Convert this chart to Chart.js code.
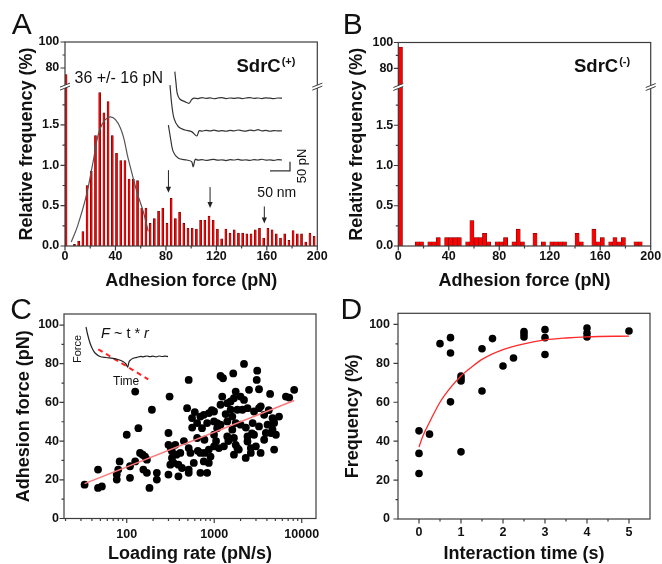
<!DOCTYPE html>
<html><head><meta charset="utf-8">
<script src="https://cdn.jsdelivr.net/npm/chart.js@4.4.1/dist/chart.umd.min.js"></script>
<style>
html,body{margin:0;padding:0;background:#fff;}
#wrap{position:relative;width:662px;height:564px;overflow:hidden;background:#fff;}
.pc{position:absolute;}
.pc canvas{display:block;}
.letter{position:absolute;font-family:'Liberation Sans',Arial,sans-serif;font-size:30px;line-height:30px;color:#111;}
</style></head><body>
<div id="wrap">
  <div class="pc" style="left:0;top:0;"><canvas id="cA" width="331" height="292"></canvas></div>
  <div class="pc" style="left:331px;top:0;"><canvas id="cB" width="331" height="292"></canvas></div>
  <div class="pc" style="left:0;top:292px;"><canvas id="cC" width="331" height="272"></canvas></div>
  <div class="pc" style="left:331px;top:292px;"><canvas id="cD" width="331" height="272"></canvas></div>
  <div class="letter" style="left:11.7px;top:9.4px">A</div>
  <div class="letter" style="left:342.8px;top:9.4px">B</div>
  <div class="letter" style="left:10.2px;top:294.4px">C</div>
  <div class="letter" style="left:340.6px;top:294.4px">D</div>
</div>
<script>
// ================= DATA =================
// Panels A/B: histogram of adhesion force, 60 bins over 0-200 pN (relative frequency, %)
const BIN_WIDTH = 200 / 60;
const A_FREQ = [75, 0, 0.02, 0.06, 0.18, 0.75, 0.93, 1.37, 1.9, 1.65, 1.79, 1.37, 1.15, 1.06, 1.06, 0.83, 0.83, 0.81, 0.47, 0.47,
  0.28, 0.34, 0.43, 0.47, 0.28, 0.59, 0.34, 0.42, 0.28, 0.22, 0.22, 0.21, 0.32, 0.32, 0.37, 0.32, 0.21, 0.09, 0.21, 0.16,
  0.2, 0.16, 0.16, 0.15, 0.15, 0.2, 0.22, 0.1, 0.22, 0.2, 0.15, 0.1, 0.15, 0.07, 0.19, 0.15, 0.15, 0.05, 0.16, 0.12];
const B_FREQ = [96.5, 0, 0, 0, 0.053, 0.053, 0, 0.053, 0.053, 0.105, 0, 0.105, 0.105, 0.105, 0.105, 0, 0.053, 0.316, 0.105, 0.105,
  0.158, 0.053, 0, 0.053, 0.053, 0.105, 0, 0.053, 0.21, 0.053, 0, 0, 0.158, 0, 0.053, 0, 0.053, 0.053, 0.053, 0.053,
  0, 0, 0.158, 0.053, 0, 0, 0.21, 0.053, 0.105, 0, 0.053, 0.105, 0.053, 0.105, 0, 0, 0.053, 0.053, 0, 0];
// Gaussian fit curve in A
const A_FIT_X = [5, 10, 17, 22, 28, 36, 44, 50, 57, 62, 66];
const A_FIT_Y = [0.05, 0.25, 0.63, 1.02, 1.46, 1.6, 1.46, 1.09, 0.67, 0.43, 0.18];
const A_FIT_LABEL = '36 +/- 16 pN';
// Arrows in A (force position, from/to frequency)
const A_ARROW_X = [82, 115, 158];
const A_ARROW_FROM = [0.94, 0.73, 0.49];
const A_ARROW_TO = [0.66, 0.47, 0.28];
// Inset force curves in A (distance nm, force pN offset)
const A_TRACE1 = [[37,706],[40,644],[43,587],[50,554],[62,541],[73,532],[79,552],[85,560],[95,558],[105,563],[115,559],[125,562],[135,557],[145,561],[155,563],[165,558],[175,561],[185,559],[195,562],[205,558],[215,561],[225,563],[235,559],[245,561],[255,558],[265,562],[275,560],[285,558],[295,561],[305,560]];
const A_TRACE2 = [[25,632],[29,532],[35,449],[46,403],[62,385],[79,376],[92,352],[98,381],[105,379],[115,383],[125,380],[135,384],[145,379],[155,382],[165,378],[175,383],[185,380],[195,385],[205,381],[215,379],[225,384],[235,381],[245,387],[255,380],[265,383],[275,378],[285,382],[295,380],[305,381]];
const A_TRACE3 = [[21,412],[27,330],[33,266],[46,229],[67,220],[79,211],[83,183],[88,224],[95,219],[105,222],[115,218],[125,221],[135,223],[145,219],[155,221],[165,217],[175,222],[185,220],[195,223],[205,219],[215,221],[225,218],[235,222],[245,220],[255,224],[265,219],[275,221],[285,218],[295,222],[305,220]];
const A_SCALEBAR = [[275,160],[325,160],[325,210]];

const HIST_X_TICKS = [0, 40, 80, 120, 160, 200];
const HIST_X_MINOR = [20, 60, 100, 140, 180];
const HIST_Y_TICKS = [0, 0.5, 1, 1.5, 80, 100];
const HIST_Y_LABELS = ['0.0', '0.5', '1.0', '1.5', '80', '100'];
const HIST_Y_MINOR = [0.25, 0.75, 1.25, 1.75, 90];

// Panel C: adhesion force vs loading rate
const C_RATE = [33,47,47,52,77,77,80,83,100,109,109,125,125,136,142,152,162,155,170,170,182,194,221,221,
  300,300,300,309,315,329,329,343,359,390,390,410,428,490,511,511,511,511,535,558,584,638,638,695,695,695,
  725,760,760,773,773,830,830,867,867,870,907,995,995,995,995,1080,1080,1130,1180,1180,1180,1235,1260,1290,
  1410,1410,1410,1540,1540,1610,1610,1650,1680,1680,1680,1760,1760,1760,1840,1840,1910,2000,2000,2100,2190,2190,
  2290,2400,2400,2400,2500,2620,2620,2750,2850,2850,2990,3060,3100,3250,3250,3250,3390,3720,3720,3890,4070,
  4350,4460,4640,4640,4780,4840,4840,5070,5500,6600,7200,8200,
  320,370,450,560,600,650,940,1050,1350,1450,2300,2700,3400,4200];
const C_FORCE = [17.5,25.3,15.8,16.6,20.1,22.7,25.3,29.5,43.3,27,21,29.5,65.6,46.7,33.9,33,32,25.3,23.6,30.4,15.8,56.2,23.6,20.1,
  38.1,44.2,22.7,63,27.8,34.7,31.3,28.7,38.1,27.8,21.8,33.9,26.1,57,71.6,36.4,25.3,23.6,33.9,51.9,28.7,41.6,49.3,33.9,23.6,52.7,
  46.7,29.5,53.6,33.9,40.7,23.6,49.3,28.7,35.6,54.5,32,37.3,43.3,55.3,50.2,46.7,49.3,36.4,73.7,58.8,48.5,63,72.5,37.3,
  42.4,50.2,59.6,60.5,56.2,45.9,52.7,75,41.6,33,62.2,38.1,65.6,49.3,36.4,56.2,35.6,48.5,63,56.2,79.9,61.3,
  31.3,42.4,39.8,57,66.5,36.4,33.9,49.3,43.3,55.3,37.3,71.6,76.4,66.8,47.6,57,33.9,40.7,53.6,44.2,48.5,
  64.4,44.2,45.9,51.9,50.2,35.6,49.3,43.3,52.7,63,62.5,66.5,
  36,33,40,47,55,35,56,40,54,40,47,44,58,56];
const C_FIT_RATE = [33, 8200];
const C_FIT_FORCE = [18, 61];
// Inset in C (time, force; arbitrary units)
const C_TRACE = [[0,40],[1.5,33],[4,24],[6.5,18],[9,14],[14,10.5],[20,9.5],[27,8.7],[32,7.5],[37,5.5],[40,3],[41.7,0],[43,5],[44,6.5],[47,8.7],[51,9.7],[55,10.6],[57,10.2],[61,11],[64,10.4],[67,10.8],[70,10.1],[73,11],[76,10.5],[79,10.9],[82,10.4]];
const C_SLOPE = [[12.3,17.7],[62.3,-12.3]];
const C_X_TICKS = [100, 1000, 10000];
const C_X_MINOR = [20,30,40,50,60,70,80,90,200,300,400,500,600,700,800,900,2000,3000,4000,5000,6000,7000,8000,9000];
const C_Y_TICKS = [0, 20, 40, 60, 80, 100];
const C_Y_MINOR = [10, 30, 50, 70, 90];

// Panel D: frequency vs interaction time
const D_TIME = [0,0,0,0.25,0.5,0.75,0.75,0.75,1,1,1,1,1.5,1.5,1.75,2,2.25,2.5,2.5,2.5,3,3,3,4,4,4,5];
const D_FREQ = [45.3,33.7,23.4,43.6,90.1,93.2,85.3,60.2,73.5,72.2,70.9,34.5,87.5,65.8,92.7,78.6,82.7,96.3,95,93.5,97.3,93.2,84.5,98.1,95.5,93.5,96.6];
const D_FIT_T = [0,0.1,0.28,0.5,0.75,1,1.25,1.5,2,2.5,3,3.5,4,5];
const D_FIT_Y = [37,43,51,60,67.5,73.5,78,82,87,90,92,93,93.6,94];
const D_X_TICKS = [0,1,2,3,4,5];
const D_X_MINOR = [0.5,1.5,2.5,3.5,4.5];
const D_Y_TICKS = [0,20,40,60,80,100];
const D_Y_MINOR = [10,30,50,70,90];

// ================= RENDERING =================
const FONT = "'Liberation Sans', Arial, Helvetica, sans-serif";
Chart.defaults.font.family = FONT;
Chart.defaults.color = '#111';
const AXIS_COLOR = '#3c3c3c';
const TICK_FONT = {family: FONT, size: 12.5, weight: 'bold', lineHeight: 1};
const TITLE_FONT = {family: FONT, size: 18, weight: 'bold', lineHeight: 1};

// broken y axis for histograms
const BREAK_LOW = 1.958, BREAK_HIGH = 64.6, UPPER_PER_PCT = 0.0161;
function brk(v) { return v <= BREAK_LOW ? v : BREAK_LOW + (v - BREAK_HIGH) * UPPER_PER_PCT; }

const framePlugin = {
  id: 'frame',
  afterDatasetsDraw(chart, args, o) {
    const {ctx, chartArea: a} = chart;
    const xs = chart.scales.x, ys = chart.scales.y;
    ctx.save();
    ctx.strokeStyle = AXIS_COLOR; ctx.lineWidth = 1.2;
    ctx.strokeRect(a.left, a.top, a.right - a.left, a.bottom - a.top);
    ctx.beginPath();
    (o.xMajor || []).forEach(v => { const p = xs.getPixelForValue(v); ctx.moveTo(p, a.bottom); ctx.lineTo(p, a.bottom + 4.5); });
    (o.xMinor || []).forEach(v => { const p = xs.getPixelForValue(v); ctx.moveTo(p, a.bottom); ctx.lineTo(p, a.bottom + 2.5); });
    (o.yMajor || []).forEach(v => { const p = ys.getPixelForValue(v); ctx.moveTo(a.left, p); ctx.lineTo(a.left - 4.5, p); });
    (o.yMinor || []).forEach(v => { const p = ys.getPixelForValue(v); ctx.moveTo(a.left, p); ctx.lineTo(a.left - 2.5, p); });
    ctx.stroke();
    if (o.breakAt != null) {
      const yb = ys.getPixelForValue(o.breakAt);
      [a.left, a.right].forEach(xb => {
        ctx.fillStyle = '#fff';
        ctx.beginPath();
        ctx.moveTo(xb - 5, yb + 0.5); ctx.lineTo(xb + 5, yb - 3.5);
        ctx.lineTo(xb + 5, yb - 0.5); ctx.lineTo(xb - 5, yb + 3.5); ctx.closePath(); ctx.fill();
        ctx.lineWidth = 1;
        ctx.beginPath();
        ctx.moveTo(xb - 5, yb + 0.5); ctx.lineTo(xb + 5, yb - 3.5);
        ctx.moveTo(xb - 5, yb + 3.5); ctx.lineTo(xb + 5, yb - 0.5);
        ctx.stroke();
      });
    }
    ctx.restore();
  }
};

function histConfig(freq, dims, extraDatasets, extraScales, plugins) {
  const centers = freq.map((_, i) => (i + 0.5) * BIN_WIDTH);
  return {
    type: 'bar',
    data: {
      datasets: [{
        type: 'bar',
        data: freq.map((v, i) => ({x: centers[i], y: brk(v)})),
        backgroundColor: '#ff0000',
        borderColor: '#5a0000',
        borderWidth: 0.6,
        inflateAmount: 0.3,
        barPercentage: 1, categoryPercentage: 1,
        order: 5
      }].concat(extraDatasets)
    },
    options: {
      responsive: false, animation: false, events: [],
      layout: {padding: {top: dims.top, right: dims.right, left: 0, bottom: 0}},
      plugins: {
        legend: {display: false}, tooltip: {enabled: false},
        frame: {xMajor: HIST_X_TICKS, xMinor: HIST_X_MINOR, yMajor: HIST_Y_TICKS.map(brk), yMinor: HIST_Y_MINOR.map(brk), breakAt: 1.975}
      },
      scales: Object.assign({
        x: {
          type: 'linear', min: 0, max: 200, offset: false,
          grid: {display: false, drawTicks: true, tickLength: 4, offset: false},
          border: {display: false},
          afterBuildTicks: s => { s.ticks = HIST_X_TICKS.map(v => ({value: v})); },
          ticks: {font: TICK_FONT, color: '#111', padding: 0.5, maxRotation: 0, autoSkip: false},
          title: {display: true, text: 'Adhesion force (pN)', font: TITLE_FONT, color: '#111', padding: {top: 0, bottom: 2}},
          afterFit: s => { s.height = dims.xh; }
        },
        y: {
          type: 'linear', min: 0, max: brk(100),
          grid: {display: false, drawTicks: true, tickLength: 4},
          border: {display: false},
          afterBuildTicks: s => { s.ticks = HIST_Y_TICKS.map(v => ({value: brk(v)})); },
          ticks: {font: TICK_FONT, color: '#111', padding: dims.yp, autoSkip: false,
                  callback: (v, i) => HIST_Y_LABELS[i]},
          title: {display: true, text: 'Relative frequency (%)', font: TITLE_FONT, color: '#111', padding: {top: dims.ypt, bottom: 0}},
          afterFit: s => { s.width = dims.yw; }
        }
      }, extraScales)
    },
    plugins: [framePlugin].concat(plugins)
  };
}

// ---- Panel A ----
const traceStyle = {type: 'line', xAxisID: 'ix', yAxisID: 'iy', borderColor: '#333', borderWidth: 1.2, pointRadius: 0, tension: 0.3, order: 1};
const annotA = {
  id: 'annotA',
  afterDatasetsDraw(chart) {
    const {ctx} = chart;
    const xs = chart.scales.x, ys = chart.scales.y, ix = chart.scales.ix, iy = chart.scales.iy;
    ctx.save();
    ctx.strokeStyle = '#222'; ctx.fillStyle = '#222'; ctx.lineWidth = 1;
    A_ARROW_X.forEach((xv, k) => {
      const px = xs.getPixelForValue(xv), p0 = ys.getPixelForValue(A_ARROW_FROM[k]), p1 = ys.getPixelForValue(A_ARROW_TO[k]);
      ctx.beginPath(); ctx.moveTo(px, p0); ctx.lineTo(px, p1 - 4); ctx.stroke();
      ctx.beginPath(); ctx.moveTo(px - 2.6, p1 - 6); ctx.lineTo(px + 2.6, p1 - 6); ctx.lineTo(px, p1); ctx.closePath(); ctx.fill();
    });
    ctx.fillStyle = '#111'; ctx.textBaseline = 'alphabetic'; ctx.textAlign = 'left';
    ctx.font = `16px ${FONT}`; ctx.fillText(A_FIT_LABEL, 74.5, 83.3);
    ctx.font = `bold 18.5px ${FONT}`; ctx.fillText('SdrC', 236.5, 71.7);
    const w = ctx.measureText('SdrC').width;
    ctx.font = `bold 11px ${FONT}`; ctx.fillText('(+)', 236.5 + w + 1, 65);
    ctx.font = `14px ${FONT}`; ctx.textAlign = 'center';
    ctx.fillText('50 nm', ix.getPixelForValue(292), iy.getPixelForValue(16));
    ctx.save(); ctx.translate(ix.getPixelForValue(365), iy.getPixelForValue(187)); ctx.rotate(-Math.PI / 2);
    ctx.font = `13px ${FONT}`; ctx.fillText('50 pN', 0, 0); ctx.restore();
    ctx.restore();
  }
};
new Chart(document.getElementById('cA'), histConfig(A_FREQ,
  {top: 42, right: 13.7, xh: 46, yw: 65, yp: 1.7, ypt: 18},
  [
    {type: 'line', data: A_FIT_X.map((x, i) => ({x, y: A_FIT_Y[i]})), borderColor: '#555', borderWidth: 1.2, pointRadius: 0, tension: 0.4, order: 2},
    Object.assign({data: A_TRACE1.map(p => ({x: p[0], y: p[1]}))}, traceStyle),
    Object.assign({data: A_TRACE2.map(p => ({x: p[0], y: p[1]}))}, traceStyle),
    Object.assign({data: A_TRACE3.map(p => ({x: p[0], y: p[1]}))}, traceStyle),
    Object.assign({data: A_SCALEBAR.map(p => ({x: p[0], y: p[1]}))}, traceStyle, {tension: 0, borderWidth: 1.3})
  ],
  {ix: {type: 'linear', axis: 'x', display: false, offset: false, bounds: 'data', min: -237.5, max: 393.25, grid: {offset: false}},
   iy: {type: 'linear', axis: 'y', display: false, offset: false, min: -253, max: 869}},
  [annotA]));

// ---- Panel B ----
const annotB = {
  id: 'annotB',
  afterDatasetsDraw(chart) {
    const {ctx} = chart;
    ctx.save();
    ctx.fillStyle = '#111'; ctx.textBaseline = 'alphabetic'; ctx.textAlign = 'left';
    ctx.font = `bold 18.5px ${FONT}`; ctx.fillText('SdrC', 243, 71.7);
    const w = ctx.measureText('SdrC').width;
    ctx.font = `bold 11px ${FONT}`; ctx.fillText('(-)', 243 + w + 1, 65);
    ctx.restore();
  }
};
new Chart(document.getElementById('cB'), histConfig(B_FREQ,
  {top: 42.5, right: 11.3, xh: 46, yw: 67.3, yp: 1, ypt: 17}, [], {}, [annotB]));

// ---- Panel C ----
const annotC = {
  id: 'annotC',
  afterDatasetsDraw(chart) {
    const {ctx} = chart;
    const ix = chart.scales.ix, iy = chart.scales.iy;
    ctx.save();
    ctx.fillStyle = '#111'; ctx.textBaseline = 'alphabetic'; ctx.textAlign = 'left';
    let x = ix.getPixelForValue(15); const y = iy.getPixelForValue(28.7);
    const parts = [['F', 'italic '], [' ~ t * ', ''], ['r', 'italic ']];
    parts.forEach(([t, st]) => { ctx.font = `${st}14.5px ${FONT}`; ctx.fillText(t, x, y); x += ctx.measureText(t).width; });
    ctx.font = `12px ${FONT}`;
    ctx.fillText('Time', ix.getPixelForValue(27), iy.getPixelForValue(-18));
    ctx.save(); ctx.translate(ix.getPixelForValue(-5), iy.getPixelForValue(18)); ctx.rotate(-Math.PI / 2);
    ctx.textAlign = 'center'; ctx.font = `11px ${FONT}`; ctx.fillText('Force', 0, 0); ctx.restore();
    ctx.restore();
  }
};
new Chart(document.getElementById('cC'), {
  type: 'scatter',
  data: {datasets: [
    {type: 'scatter', data: C_RATE.map((x, i) => ({x, y: C_FORCE[i]})), backgroundColor: '#000', borderWidth: 0, pointRadius: 3.9, order: 3},
    {type: 'line', data: C_FIT_RATE.map((x, i) => ({x, y: C_FIT_FORCE[i]})), borderColor: '#ff7878', borderWidth: 1.4, pointRadius: 0, order: 1},
    {type: 'line', xAxisID: 'ix', yAxisID: 'iy', data: C_TRACE.map(p => ({x: p[0], y: p[1]})), borderColor: '#222', borderWidth: 1.2, pointRadius: 0, tension: 0.3, order: 2},
    {type: 'line', xAxisID: 'ix', yAxisID: 'iy', data: C_SLOPE.map(p => ({x: p[0], y: p[1]})), borderColor: '#ff2020', borderWidth: 2, borderDash: [5, 4], pointRadius: 0, order: 2}
  ]},
  options: {
    responsive: false, animation: false, events: [],
    layout: {padding: {top: 22, right: 15, left: 0, bottom: 0}},
    plugins: {legend: {display: false}, tooltip: {enabled: false},
      frame: {xMajor: C_X_TICKS, xMinor: C_X_MINOR, yMajor: C_Y_TICKS, yMinor: C_Y_MINOR}},
    scales: {
      x: {type: 'logarithmic', min: 19.2, max: 14560,
        grid: {display: false, drawTicks: true, tickLength: 4}, border: {display: false},
        afterBuildTicks: s => { s.ticks = C_X_TICKS.map(v => ({value: v})); },
        ticks: {font: TICK_FONT, color: '#111', padding: 5.4, maxRotation: 0, autoSkip: false, callback: v => String(v)},
        title: {display: true, text: 'Loading rate (pN/s)', font: TITLE_FONT, color: '#111', padding: {top: 0, bottom: 0.5}},
        afterFit: s => { s.height = 45.5; }},
      y: {type: 'linear', min: 0, max: 105.7,
        grid: {display: false, drawTicks: true, tickLength: 4}, border: {display: false},
        afterBuildTicks: s => { s.ticks = C_Y_TICKS.map(v => ({value: v})); },
        ticks: {font: TICK_FONT, color: '#111', padding: 1, autoSkip: false},
        title: {display: true, text: 'Adhesion force (pN)', font: TITLE_FONT, color: '#111', padding: {top: 15.5, bottom: 0}},
        afterFit: s => { s.width = 64; }},
      ix: {type: 'linear', axis: 'x', display: false, offset: false, min: -22, max: 230},
      iy: {type: 'linear', axis: 'y', display: false, offset: false, min: -151.5, max: 53}
    }
  },
  plugins: [framePlugin, annotC]
});

// ---- Panel D ----
new Chart(document.getElementById('cD'), {
  type: 'scatter',
  data: {datasets: [
    {type: 'scatter', data: D_TIME.map((x, i) => ({x, y: D_FREQ[i]})), backgroundColor: '#000', borderWidth: 0, pointRadius: 3.8, order: 2},
    {type: 'line', data: D_FIT_T.map((x, i) => ({x, y: D_FIT_Y[i]})), borderColor: '#ff2a2a', borderWidth: 1.3, pointRadius: 0, tension: 0.4, cubicInterpolationMode: 'monotone', order: 1}
  ]},
  options: {
    responsive: false, animation: false, events: [],
    layout: {padding: {top: 21.3, right: 12, left: 0, bottom: 0}},
    plugins: {legend: {display: false}, tooltip: {enabled: false},
      frame: {xMajor: D_X_TICKS, xMinor: D_X_MINOR, yMajor: D_Y_TICKS, yMinor: D_Y_MINOR}},
    scales: {
      x: {type: 'linear', min: -0.5, max: 5.5,
        grid: {display: false, drawTicks: true, tickLength: 4}, border: {display: false},
        afterBuildTicks: s => { s.ticks = D_X_TICKS.map(v => ({value: v})); },
        ticks: {font: TICK_FONT, color: '#111', padding: 3.2, maxRotation: 0, autoSkip: false},
        title: {display: true, text: 'Interaction time (s)', font: TITLE_FONT, color: '#111', padding: {top: 0, bottom: 1}},
        afterFit: s => { s.height = 45; }},
      y: {type: 'linear', min: 0, max: 105.7,
        grid: {display: false, drawTicks: true, tickLength: 4}, border: {display: false},
        afterBuildTicks: s => { s.ticks = D_Y_TICKS.map(v => ({value: v})); },
        ticks: {font: TICK_FONT, color: '#111', padding: 4, autoSkip: false},
        title: {display: true, text: 'Frequency (%)', font: TITLE_FONT, color: '#111', padding: {top: 13, bottom: 0}},
        afterFit: s => { s.width = 67; }}
    }
  },
  plugins: [framePlugin]
});
</script>
</body></html>
